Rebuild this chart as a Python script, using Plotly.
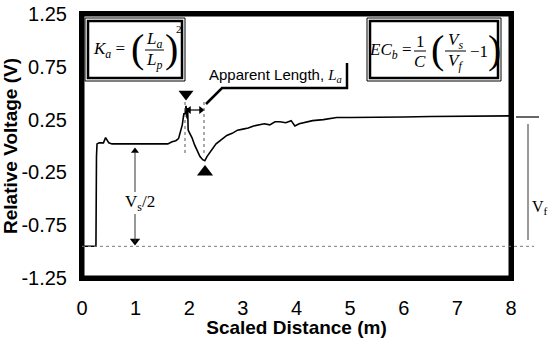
import plotly.graph_objects as go

# ---- data ----
dist = [0, 0.26, 0.27, 0.28, 0.32, 0.40, 0.44, 0.47, 0.50, 0.56, 0.8, 1.0, 1.3, 1.6, 1.68, 1.75,
        1.80, 1.84, 1.87, 1.90, 1.92, 1.94, 1.96, 1.97, 1.98, 2.00, 2.05, 2.10, 2.15, 2.20,
        2.25, 2.29, 2.33, 2.40, 2.50, 2.60, 2.70, 2.80, 2.90, 3.00, 3.10, 3.20, 3.30, 3.40,
        3.50, 3.60, 3.69, 3.80, 3.90, 3.97, 4.05, 4.12, 4.30, 4.50, 4.75, 5.00, 5.50, 6.00,
        6.50, 7.00, 7.50, 8.00]
volt = [-0.95, -0.95, -0.10, 0.02, 0.03, 0.03, 0.08, 0.06, 0.03, 0.02, 0.02, 0.02, 0.02, 0.02, 0.04, 0.05,
        0.07, 0.15, 0.20, 0.31, 0.30, 0.38, 0.26, 0.36, 0.15, 0.13, 0.08, 0.01, -0.05, -0.10,
        -0.13, -0.14, -0.10, -0.05, 0.02, 0.06, 0.10, 0.12, 0.15, 0.16, 0.17, 0.19, 0.20, 0.21,
        0.20, 0.23, 0.23, 0.22, 0.24, 0.19, 0.21, 0.22, 0.24, 0.25, 0.27, 0.27, 0.27, 0.275,
        0.28, 0.28, 0.285, 0.285]
x_ticks = [0, 1, 2, 3, 4, 5, 6, 7, 8]
y_ticks = [-1.25, -0.75, -0.25, 0.25, 0.75, 1.25]
x_range = [0, 8]
y_range = [-1.25, 1.25]
baseline = -0.95

# ---- layout geometry (pixels) ----
W, H = 550, 338
L, R, T, B = 82, 39, 14, 60
PW, PH = W - L - R, H - T - B


def px(x):
    return (x - L) / PW


def py(y):
    return (H - B - y) / PH


fig = go.Figure()

fig.add_trace(go.Scatter(x=dist, y=volt, mode="lines",
                         line=dict(color="black", width=1.6), hoverinfo="skip",
                         showlegend=False))

shapes = []
ann = []
serif = "Liberation Serif, Times New Roman, serif"

# plot frame as a closed path
shapes.append(dict(type="path", xref="paper", yref="paper",
                   path="M {a} {b} L {c} {b} L {c} {d} L {a} {d} Z".format(a=px(83), b=py(277), c=px(510), d=py(15)),
                   line=dict(color="black", width=3), layer="above"))

# dotted baseline, extending past right edge
shapes.append(dict(type="line", xref="paper", yref="y", x0=0, x1=px(534), y0=baseline, y1=baseline,
                   line=dict(color="#777", width=1, dash="dot")))

# Vs/2 arrow
shapes.append(dict(type="line", xref="paper", yref="paper", x0=px(135), x1=px(135), y0=py(152), y1=py(192),
                   line=dict(color="#333", width=1)))
shapes.append(dict(type="line", xref="paper", yref="paper", x0=px(135), x1=px(135), y0=py(214), y1=py(242),
                   line=dict(color="#333", width=1)))
ann.append(dict(xref="paper", yref="paper", x=px(140), y=py(203), text="V<sub>s</sub>/2", showarrow=False,
                xanchor="center", yanchor="middle",
                font=dict(family=serif, size=17, color="black")))

# Vf arrow
shapes.append(dict(type="line", xref="paper", yref="paper", x0=px(528), x1=px(528), y0=py(124), y1=py(240),
                   line=dict(color="#333", width=1)))
shapes.append(dict(type="line", xref="paper", yref="paper", x0=px(516), x1=px(539), y0=py(117), y1=py(117),
                   line=dict(color="black", width=1.2)))
ann.append(dict(xref="paper", yref="paper", x=px(530), y=py(207), text="V<sub>f</sub>", showarrow=False,
                xanchor="left", yanchor="middle",
                font=dict(family=serif, size=16, color="black")))

# dotted verticals
for xx in (185, 204):
    shapes.append(dict(type="line", xref="paper", yref="paper", x0=px(xx), x1=px(xx), y0=py(102), y1=py(154),
                       line=dict(color="#555", width=1, dash="dot")))
shapes.append(dict(type="line", xref="paper", yref="paper", x0=px(187), x1=px(202), y0=py(110), y1=py(110),
                   line=dict(color="black", width=1.2)))

# leader line + label frame
shapes.append(dict(type="path", xref="paper", yref="paper",
                   path="M {} {} L {} {} L {} {} L {} {}".format(px(206), py(104), px(222), py(88),
                                                                 px(347), py(88), px(347), py(63)),
                   line=dict(color="black", width=2.5)))
ann.append(dict(xref="paper", yref="paper", x=px(344), y=py(75),
                text="Apparent Length, <i><span style='font-family:Liberation Serif'>L<sub>a</sub></span></i>",
                showarrow=False, xanchor="right", yanchor="middle",
                font=dict(family="Liberation Sans Narrow, Arial Narrow, sans-serif", size=15, color="black")))

# equation boxes: double border (thin outer, thick inner)
for (x0, x1) in ((85, 185), (367, 501)):
    shapes.append(dict(type="rect", xref="paper", yref="paper", x0=px(x0), x1=px(x1), y0=py(81), y1=py(18),
                       line=dict(color="black", width=1), fillcolor="white"))
    shapes.append(dict(type="rect", xref="paper", yref="paper", x0=px(x0 + 3), x1=px(x1 - 3), y0=py(78),
                       y1=py(21), line=dict(color="black", width=2.5)))


def t(x, y, s, size=17, anchor="center"):
    ann.append(dict(xref="paper", yref="paper", x=px(x), y=py(y), text=s, showarrow=False,
                    xanchor=anchor, yanchor="middle",
                    font=dict(family=serif, size=size, color="black")))


def fracline(x0, x1, y):
    shapes.append(dict(type="line", xref="paper", yref="paper", x0=px(x0), x1=px(x1), y0=py(y), y1=py(y),
                       line=dict(color="black", width=1)))


# K_a = (L_a / L_p)^2
t(109, 50, "<i>K<sub>a</sub></i> =")
t(137, 48, "(", size=40)
fracline(145, 164, 50)
t(154, 40, "<i>L<sub>a</sub></i>")
t(154, 61, "<i>L<sub>p</sub></i>")
t(171, 48, ")", size=40)
t(179, 29, "2", size=11)

# EC_b = 1/C (Vs/Vf - 1)
t(390, 51, "<i>EC<sub>b</sub></i> =")
fracline(414, 426, 51)
t(420, 41, "1")
t(420, 62, "<i>C</i>")
t(437, 49, "(", size=40)
fracline(445, 466, 51)
t(455, 41, "<i>V<sub>s</sub></i>")
t(455, 62, "<i>V<sub>f</sub></i>")
t(479, 51, "\u22121")
t(494, 49, ")", size=40)

fig.update_layout(shapes=shapes, annotations=ann)

# triangles / arrowheads (cliponaxis False so ones outside plot show)
tri = [
    (186, 94, "triangle-down", 13),
    (205, 172, "triangle-up", 14),
    (528, 110, "triangle-down", 13),
    (528, 124, "triangle-up", 13),
    (528, 240, "triangle-down", 10),
    (135, 151, "triangle-up", 7),
    (135, 241, "triangle-down", 9),
    (189, 110, "triangle-left", 7),
    (201, 110, "triangle-right", 7),
]
for (xx, yy, sym, sz) in tri:
    fig.add_trace(go.Scatter(x=[(xx - L) / PW * 8], y=[1.25 - (yy - T) / PH * 2.5], mode="markers",
                             marker=dict(symbol=sym, size=sz, color="black"), cliponaxis=False,
                             showlegend=False, hoverinfo="skip"))

tickfont = dict(family="Liberation Sans Narrow, Arial Narrow, sans-serif", size=20, color="black")
titlefont = dict(family="Liberation Sans, Arial, sans-serif", size=19, color="black")

fig.update_layout(
    width=W, height=H,
    margin=dict(l=L, r=R, t=T, b=B, autoexpand=False),
    paper_bgcolor="white", plot_bgcolor="white",
    showlegend=False,
    xaxis=dict(range=x_range, tickvals=x_ticks, showgrid=False, zeroline=False, automargin=False,
               showline=True, linecolor="black", linewidth=3, mirror="allticks",
               ticks="", ticklabelstandoff=10,
               tickfont=tickfont,
               title=dict(text="<b>Scaled Distance (m)</b>", standoff=2, font=titlefont)),
    yaxis=dict(range=y_range, tickvals=y_ticks, ticktext=[f"{v:.2f}" for v in y_ticks],
               showgrid=False, zeroline=False, automargin=False,
               showline=True, linecolor="black", linewidth=3, mirror="allticks",
               ticks="", ticklabelstandoff=8,
               tickfont=tickfont,
               title=dict(text="<b>Relative Voltage (V)</b>", standoff=4, font=titlefont)),
)

fig.write_html("out.html", post_script="document.body.style.margin='0px';",
               config={"displayModeBar": False})
